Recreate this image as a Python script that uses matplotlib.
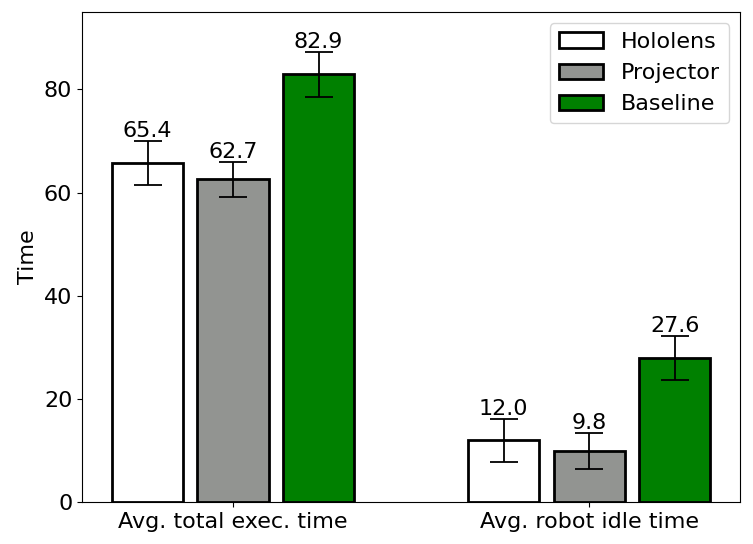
import numpy as np
import matplotlib
matplotlib.use("Agg")
import matplotlib.pyplot as plt

categories = ["Avg. total exec. time", "Avg. robot idle time"]
series = ["Hololens", "Projector", "Baseline"]
colors = ["white", "#929491", "green"]

# bar heights, error half-widths and printed labels per series
heights = {
    "Hololens": [65.7, 12.0],
    "Projector": [62.6, 9.9],
    "Baseline": [82.9, 27.9],
}
errors = {
    "Hololens": [4.2, 4.2],
    "Projector": [3.4, 3.4],
    "Baseline": [4.3, 4.3],
}
labels = {
    "Hololens": ["65.4", "12.0"],
    "Projector": ["62.7", "9.8"],
    "Baseline": ["82.9", "27.6"],
}

plt.rcParams["font.size"] = 16

fig = plt.figure(figsize=(7.53, 5.44), dpi=100)
ax = fig.add_axes([0.109, 0.077, 0.874, 0.901])

x = np.arange(len(categories))
width = 0.2
step = 0.24

for i, s in enumerate(series):
    pos = x + (i - 1) * step
    ax.bar(pos, heights[s], width, color=colors[i], edgecolor="black",
           linewidth=2, label=s, yerr=errors[s], capsize=10,
           error_kw=dict(elinewidth=1.3, capthick=1.3))
    for p, h, e, t in zip(pos, heights[s], errors[s], labels[s]):
        ax.text(p, h + e, t, ha="center", va="bottom", fontsize=16)

ax.set_xticks(x)
ax.set_xticklabels(categories)
ax.set_xlim(-0.424, 1.424)
ax.set_ylim(0, 95)
ax.set_yticks([0, 20, 40, 60, 80])
ax.set_ylabel("Time")
ax.legend(loc="upper right")

fig.savefig("out.png", dpi=100)
